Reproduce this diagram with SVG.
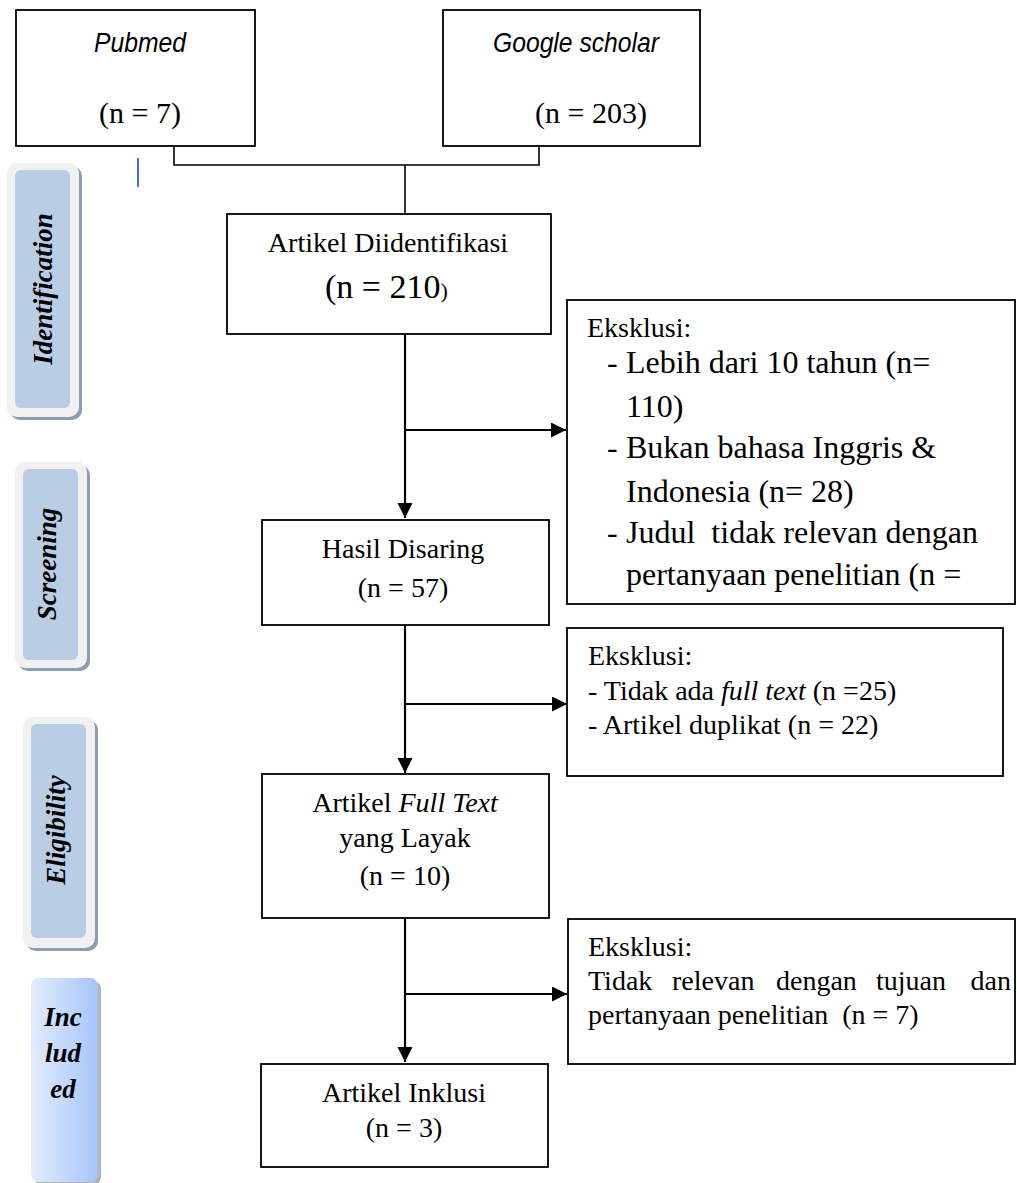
<svg xmlns="http://www.w3.org/2000/svg" width="1017" height="1183" viewBox="0 0 1017 1183">
<style>
.box{fill:#fff;stroke:#000;stroke-width:1.8}
.t{font-family:"Liberation Serif","Times New Roman",serif;font-size:28px;fill:#000}
.c{text-anchor:middle}
.src{font-family:"Liberation Sans",Arial,sans-serif;font-size:28px;font-style:italic;fill:#000}
.lab{font-family:"Liberation Serif","Times New Roman",serif;font-size:27px;font-weight:bold;font-style:italic;fill:#000;text-anchor:middle}
.shadow{fill:#8c9cb3}
.outer{fill:#f1f1f1}
.inner{fill:#b9cde5}
.ln{fill:none;stroke:#000;stroke-width:1.6}
.ar{fill:none;stroke:#000;stroke-width:2.2}
.big{font-size:32px}
</style>
<defs>
<marker id="ah" markerUnits="userSpaceOnUse" markerWidth="16" markerHeight="16" refX="15" refY="7.5" orient="auto">
<path d="M0,0 L15,7.5 L0,15 Z" fill="#000"/>
</marker>
<linearGradient id="gInc" x1="0" y1="0" x2="1" y2="0">
<stop offset="0" stop-color="#e3edfd"/>
<stop offset="1" stop-color="#a6c4fb"/>
</linearGradient>
</defs>
<rect width="1017" height="1183" fill="#fff"/>

<g id="label-identification">
<rect class="shadow" x="10" y="166" width="72" height="254" rx="10"/>
<rect class="outer" x="7" y="163" width="72" height="254" rx="10"/>
<rect class="inner" x="15" y="170" width="55" height="238" rx="6"/>
<text class="lab" transform="translate(52,289) rotate(-90)">Identification</text>
</g>
<g id="label-screening">
<rect class="shadow" x="18" y="465" width="72" height="206" rx="10"/>
<rect class="outer" x="15" y="462" width="72" height="206" rx="10"/>
<rect class="inner" x="23" y="469" width="55" height="191" rx="6"/>
<text class="lab" transform="translate(56,564) rotate(-90)">Screening</text>
</g>
<g id="label-eligibility">
<rect class="shadow" x="26" y="720" width="72" height="231" rx="10"/>
<rect class="outer" x="23" y="717" width="72" height="231" rx="10"/>
<rect class="inner" x="31" y="724" width="55" height="214" rx="6"/>
<text class="lab" transform="translate(65,830) rotate(-90)">Eligibility</text>
</g>
<g id="label-included">
<rect x="34" y="981" width="67" height="204" rx="8" fill="#b3b3b3"/>
<rect x="31" y="978" width="67" height="204" rx="8" fill="url(#gInc)"/>
<text class="lab" x="63" y="1026">Inc</text>
<text class="lab" x="63" y="1062">lud</text>
<text class="lab" x="63" y="1098">ed</text>
</g>

<g id="connectors">
<polyline class="ln" points="174,146 174,165 539,165 539,146"/>
<line class="ln" x1="405" y1="165" x2="405" y2="227"/>
<line x1="138" y1="158" x2="138" y2="187" stroke="#4472c4" stroke-width="2"/>
<line class="ar" x1="405" y1="334" x2="405" y2="518" marker-end="url(#ah)"/>
<line class="ar" x1="405" y1="430" x2="566" y2="430" marker-end="url(#ah)"/>
<line class="ar" x1="405" y1="625" x2="405" y2="773" marker-end="url(#ah)"/>
<line class="ar" x1="405" y1="704" x2="567" y2="704" marker-end="url(#ah)"/>
<line class="ar" x1="405" y1="918" x2="405" y2="1062" marker-end="url(#ah)"/>
<line class="ar" x1="405" y1="994" x2="567" y2="994" marker-end="url(#ah)"/>
</g>

<g id="node-pubmed">
<rect class="box" x="16" y="10" width="239" height="136"/>
<text class="src c" x="140" y="52" textLength="92" lengthAdjust="spacingAndGlyphs">Pubmed</text>
<text class="t c" x="140" y="123" style="font-size:30px">(n = 7)</text>
</g>
<g id="node-google">
<rect class="box" x="443" y="10" width="257" height="136"/>
<text class="src c" x="576" y="52" textLength="166" lengthAdjust="spacingAndGlyphs">Google scholar</text>
<text class="t c" x="591" y="123" style="font-size:30px">(n = 203)</text>
</g>
<g id="node-identified">
<rect class="box" x="227" y="214" width="324" height="120" fill="none"/>
<text class="t c" x="388" y="252">Artikel Diidentifikasi</text>
<text class="t" x="325" y="298"><tspan style="font-size:34px">(n = 210</tspan><tspan style="font-size:22px">)</tspan></text>
</g>
<g id="node-excl1">
<rect class="box" x="567" y="300" width="448" height="304"/>
<text class="t" x="587" y="337">Eksklusi:</text>
<text class="t big" x="607" y="373">-</text>
<text class="t big" x="626" y="373">Lebih dari 10 tahun (n=</text>
<text class="t big" x="626" y="417">110)</text>
<text class="t big" x="607" y="458">-</text>
<text class="t big" x="626" y="458">Bukan bahasa Inggris &amp;</text>
<text class="t big" x="626" y="502">Indonesia (n= 28)</text>
<text class="t big" x="607" y="543">-</text>
<text class="t big" x="626" y="543" xml:space="preserve">Judul  tidak relevan dengan</text>
<text class="t big" x="626" y="585">pertanyaan penelitian (n =</text>
</g>
<g id="node-screened">
<rect class="box" x="262" y="520" width="287" height="105"/>
<text class="t c" x="403" y="558">Hasil Disaring</text>
<text class="t c" x="403" y="597">(n = 57)</text>
</g>
<g id="node-excl2">
<rect class="box" x="567" y="628" width="436" height="148"/>
<text class="t" x="588" y="665">Eksklusi:</text>
<text class="t" x="588" y="700">- Tidak ada <tspan font-style="italic">full text</tspan> (n =25)</text>
<text class="t" x="588" y="734">- Artikel duplikat (n = 22)</text>
</g>
<g id="node-fulltext">
<rect class="box" x="262" y="774" width="287" height="144"/>
<text class="t c" x="405" y="812">Artikel <tspan font-style="italic">Full Text</tspan></text>
<text class="t c" x="405" y="847">yang Layak</text>
<text class="t c" x="405" y="885">(n = 10)</text>
</g>
<g id="node-excl3">
<rect class="box" x="568" y="919" width="447" height="145"/>
<text class="t" x="588" y="956">Eksklusi:</text>
<text class="t" x="588" y="990">Tidak</text>
<text class="t" x="672" y="990">relevan</text>
<text class="t" x="776" y="990">dengan</text>
<text class="t" x="876" y="990">tujuan</text>
<text class="t" x="1011" y="990" text-anchor="end">dan</text>
<text class="t" x="588" y="1024" xml:space="preserve">pertanyaan penelitian  (n = 7)</text>
</g>
<g id="node-included">
<rect class="box" x="261" y="1064" width="287" height="103"/>
<text class="t c" x="404" y="1102">Artikel Inklusi</text>
<text class="t c" x="404" y="1137">(n = 3)</text>
</g>
</svg>
